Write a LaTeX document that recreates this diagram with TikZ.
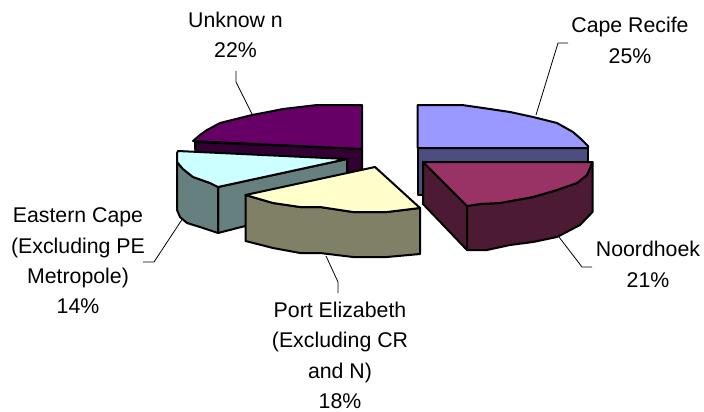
\documentclass[tikz,border=0pt]{standalone}
\usepackage{fontspec}
\setmainfont{Liberation Sans}
\tikzset{
  x=1pt,y=-1pt,
  edge/.style={draw=black,line width=2pt,line join=round},
  leader/.style={draw=black,line width=0.8pt},
  lab/.style={align=center,font=\fontsize{21.3}{30.4}\selectfont,inner sep=0pt}
}
\definecolor{pTop}{HTML}{660066}\definecolor{pSide}{HTML}{330033}
\definecolor{bTop}{HTML}{9999FF}\definecolor{bSide}{HTML}{4D4D80}
\definecolor{mTop}{HTML}{993366}\definecolor{mSide}{HTML}{4D1A33}
\definecolor{yTop}{HTML}{FFFFCC}\definecolor{ySide}{HTML}{808066}
\definecolor{cTop}{HTML}{CCFFFF}\definecolor{cSide}{HTML}{668080}
\begin{document}
\begin{tikzpicture}
\useasboundingbox (0,0) rectangle (704,412);
% labels
\node[lab] (unk) at (235.5,35) {Unknow n\\22\%};
\node[lab] (cape) at (630,40.5) {Cape Recife\\25\%};
\node[lab] (noor) at (648,264.5) {Noordhoek\\21\%};
\node[lab] (east) at (78,261) {Eastern Cape\\(Excluding PE\\Metropole)\\14\%};
\node[lab] (port) at (340,355.5) {Port Elizabeth\\(Excluding CR\\and N)\\18\%};
% leaders
\coordinate (u1) at (252,114); \coordinate (u2) at (236,82); \coordinate (u3) at (236,71);
\coordinate (c1) at (536,115); \coordinate (c2) at (558,43); \coordinate (c3) at (568,43);
\coordinate (n1) at (559,237); \coordinate (n2) at (582,267); \coordinate (n3) at (592,267);
\coordinate (e1) at (183,218); \coordinate (e2) at (154,262); \coordinate (e3) at (143,262);
\coordinate (p1) at (326,256); \coordinate (p2) at (338,282); \coordinate (p3) at (338,293);
\draw[leader] (u1)--(u2)--(u3);
\draw[leader] (c1)--(c2)--(c3);
\draw[leader] (n1)--(n2)--(n3);
\draw[leader] (e1)--(e2)--(e3);
\draw[leader] (p1)--(p2)--(p3);
% purple
\path[edge,fill=pSide] (195,142)--(362,149)--(362,172)--(196,172)--cycle;
\path[edge,fill=pTop] (362,105)--(317,105)--(300,107)--(283,109)--(268,112)--(252,115)--(236,119)--(220,123)--(207,130)--(200,135)--(193,141)--(362,149)--cycle;
% blue
\path[edge,fill=bSide] (417.5,148)--(588,148)--(588,165)--(423,165)--(423,195)--(417.5,195)--cycle;
\path[edge,fill=bTop] (417.5,105)--(462,105)--(483,108)--(510,112)--(533,117)--(557,123)--(573,132)--(581,139)--(588,146)--(588,148)--(417.5,148)--cycle;
% maroon
\path[edge,fill=mSide] (423,162)--(467,206)--(467,250)--(423,204)--cycle;
\path[edge,fill=mSide] (467,206)--(480,204)--(500,203)--(533,197)--(557,190)--(577,183)--(587,175)--(592.5,162)--(592.5,212)--(580,225)--(557,237)--(533,242)--(510,245)--(487,250)--(467,250)--cycle;
\path[edge,fill=mTop] (423,162)--(592.5,162)--(587,175)--(577,183)--(557,190)--(533,197)--(500,203)--(480,204)--(467,206)--cycle;
% cyan
\path[edge,fill=cSide] (218,187)--(347,159)--(347,200)--(218,233)--cycle;
\path[edge,fill=cSide] (177,162)--(183,169)--(193,177)--(210,183)--(218,187)--(218,233)--(200,227)--(187,223)--(180,217)--(177,210)--cycle;
\path[edge,fill=cTop] (178,151)--(347,159)--(218,187)--(210,183)--(193,177)--(183,169)--(177,162)--(177,153)--cycle;
% yellow
\path[edge,fill=ySide] (245.5,195)--(273,203)--(300,207)--(320,207)--(353,212)--(387,212)--(420,208)--(420,254)--(387,257)--(353,257)--(320,253)--(300,253)--(273,248)--(245.5,241)--cycle;
\path[edge,fill=yTop] (245.5,195)--(375,167)--(420,208)--(387,212)--(353,212)--(320,207)--(300,207)--(273,203)--cycle;
\end{tikzpicture}
\end{document}
